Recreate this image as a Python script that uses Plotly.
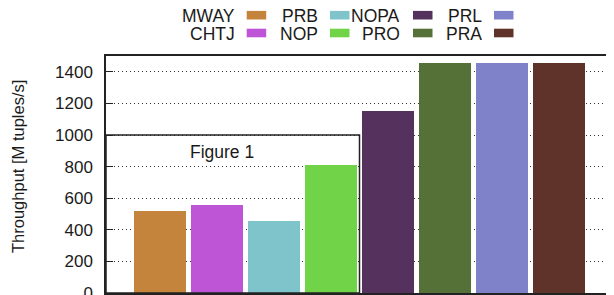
import plotly.graph_objects as go

# ---- data ----
ALGORITHMS = ["MWAY", "CHTJ", "PRB", "NOP", "NOPA", "PRO", "PRL", "PRA"]
THROUGHPUT = [518, 556, 455, 809, 1151, 1455, 1455, 1455]
COLORS = ["#C4843C", "#BE55D6", "#80C4CB", "#70D348",
          "#55325D", "#557138", "#7F82C8", "#5F3329"]
Y_TICKS = [0, 200, 400, 600, 800, 1000, 1200, 1400]
Y_TITLE = "Throughput [M tuples/s]"
BOX_LABEL = "Figure 1"
BOX_TOP = 1000

# ---- layout geometry (page has an 8px body margin) ----
OFF = 8
W, H = 614 - OFF, 295 - OFF
ML, MR, MT, MB = 106 - OFF, 1, 56 - OFF, 2
PW, PH = W - ML - MR, H - MT - MB
X_RANGE = [-0.947, 7.947]
Y_RANGE = [0, 1500]
FONT = "Liberation Sans, Arial, Helvetica, sans-serif"


def px2paper_x(px):
    """page pixel x -> paper coordinate"""
    return (px - OFF - ML) / PW


def px2paper_y(py):
    """page pixel y -> paper coordinate"""
    return (OFF + H - MB - py) / PH


fig = go.Figure()
fig.add_trace(go.Bar(
    x=ALGORITHMS, y=THROUGHPUT, width=0.912,
    marker=dict(color=COLORS, line=dict(width=0)),
    showlegend=False, hoverinfo="x+y",
))

shapes = [
    dict(type="rect", xref="x", yref="y", x0=X_RANGE[0], x1=3.5,
         y0=0, y1=BOX_TOP, line=dict(color="#222", width=1.5), layer="above"),
]
annotations = [
    dict(x=1.08, y=894, xref="x", yref="y", text=BOX_LABEL, showarrow=False,
         font=dict(size=17.5, color="#1a1a1a", family=FONT),
         xanchor="center", yanchor="middle"),
    # y-axis title
    dict(x=px2paper_x(18), y=px2paper_y(167), xref="paper", yref="paper",
         text=Y_TITLE, textangle=-90, showarrow=False,
         xanchor="center", yanchor="middle",
         font=dict(size=16.5, color="#1a1a1a", family=FONT)),
]

# gnuplot-style key: text then swatch, 2 rows x 4 columns, column-major
text_right = [235.7, 319, 400.7, 483]
swatch_left = [246.7, 330, 413, 494]
row_center = [15.5, 33.3]
for i, (name, col) in enumerate(zip(ALGORITHMS, COLORS)):
    c, r = i // 2, i % 2
    annotations.append(dict(
        x=px2paper_x(text_right[c] + 1), y=px2paper_y(row_center[r]),
        xref="paper", yref="paper", text=name, showarrow=False,
        xanchor="right", yanchor="middle", height=17, valign="middle",
        font=dict(size=17.5, color="#1a1a1a", family=FONT)))
    yc = row_center[r] - 0.3
    shapes.append(dict(
        type="rect", xref="paper", yref="paper",
        x0=px2paper_x(swatch_left[c]), x1=px2paper_x(swatch_left[c] + 19.5),
        y0=px2paper_y(yc + 4.3), y1=px2paper_y(yc - 4.3),
        fillcolor=col, line=dict(width=0)))

fig.update_layout(
    width=W, height=H,
    margin=dict(l=ML, r=MR, t=MT, b=MB, pad=0, autoexpand=False),
    paper_bgcolor="white", plot_bgcolor="white",
    font=dict(family=FONT, size=17, color="#1a1a1a"),
    shapes=shapes, annotations=annotations,
    bargap=0,
)
fig.update_xaxes(
    range=X_RANGE, showticklabels=False, ticks="",
    showgrid=False, zeroline=False, automargin=False,
    showline=True, mirror=True, linecolor="#222", linewidth=1.5,
)
fig.update_yaxes(
    range=Y_RANGE, tickvals=Y_TICKS, ticks="inside", ticklen=7,
    tickwidth=1.2, tickcolor="#222", ticklabelstandoff=8,
    ticklabeloverflow="allow",
    showline=True, mirror="ticks", linecolor="#222", linewidth=1.5,
    showgrid=True, gridcolor="#333", gridwidth=1, griddash="1px,3px",
    zeroline=False, automargin=False,
    tickfont=dict(size=17),
)

fig.write_html("out.html")
